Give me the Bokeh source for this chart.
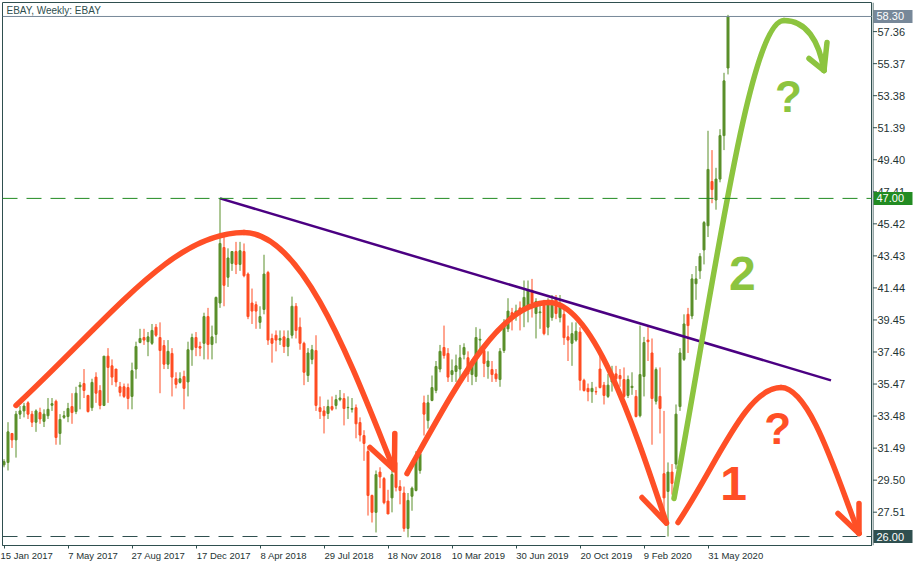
from bokeh.plotting import figure
from bokeh.layouts import row
from bokeh.models import FixedTicker, Span, Label, ColumnDataSource, Range1d
from bokeh.core.properties import value
from bokeh.embed import file_html
from bokeh.resources import INLINE

# ---------------- data (weekly EBAY candles) ----------------
OPEN = [30.45, 30.6, 32.4, 32.0, 33.6, 33.8, 34.3, 33.6, 33.1, 33.7,
        33.15, 33.5, 34.15, 34.4, 32.4, 33.4, 33.45, 34.07, 33.76, 35.3,
        35.5, 34.76, 34.0, 35.9, 35.07, 34.14, 37.2, 36.6, 36.4, 35.3,
        35.3, 35.25, 34.7, 36.4, 38.05, 38.36, 38.1, 38.0, 39.0, 38.36,
        37.86, 36.7, 37.37, 35.8, 35.57, 35.94, 35.6, 37.6, 38.36, 37.8,
        38.0, 39.66, 37.93, 38.55, 40.5, 43.95, 42.1, 42.96, 43.7, 42.9,
        43.7, 42.3, 40.5, 40.4, 39.3, 40.1, 42.4, 38.3, 38.5, 38.2,
        38.4, 37.8, 38.5, 40.3, 39.0, 38.0, 36.0, 37.0, 37.55, 34.0,
        33.8, 33.64, 34.07, 34.14, 34.5, 34.57, 34.0, 33.9, 34.0, 33.08,
        32.27, 31.28, 28.55, 27.5, 30.0, 29.6, 28.2, 28.4, 30.6, 29.1,
        28.7, 26.5, 28.5, 28.86, 30.1, 34.3, 33.2, 34.45, 35.07, 36.4,
        37.74, 37.37, 36.06, 36.25, 36.4, 37.3, 37.1, 36.06, 35.94, 38.2,
        37.55, 36.56, 36.37, 36.1, 35.75, 37.55, 38.9, 39.9, 39.85, 40.2,
        40.16, 40.2, 41.3, 39.85, 39.9, 40.5, 39.0, 39.6, 40.8, 39.6,
        39.8, 38.4, 38.0, 38.2, 38.7, 35.7, 35.2, 35.0, 35.0, 36.4,
        35.4, 34.7, 35.6, 36.1, 36.0, 35.75, 34.76, 35.25, 34.7, 33.5,
        35.94, 38.2, 37.4, 34.4, 34.7, 29.9, 28.8, 30.0, 30.5, 34.07,
        37.0, 39.8, 39.7, 41.7, 42.5, 43.8, 45.3, 48.05, 46.9, 48.2,
        50.9, 55.1]
HIGH = [30.8, 33.1, 32.4, 33.8, 34.1, 34.3, 34.4, 33.8, 33.9, 34.0,
        33.9, 34.6, 34.6, 34.5, 33.6, 33.8, 34.3, 34.9, 35.3, 35.6,
        36.4, 34.8, 35.8, 36.2, 35.4, 37.2, 37.7, 37.0, 36.4, 35.6,
        35.5, 35.5, 36.8, 38.1, 38.9, 38.9, 38.7, 39.2, 39.2, 39.3,
        38.2, 38.2, 37.7, 36.2, 36.2, 36.3, 38.1, 38.6, 38.7, 38.1,
        39.9, 40.2, 39.1, 40.9, 47.0, 44.6, 43.9, 43.7, 44.3, 44.3,
        44.2, 42.4, 41.4, 40.6, 40.3, 43.5, 42.5, 38.6, 38.8, 38.8,
        38.8, 38.8, 40.9, 40.5, 39.6, 38.1, 37.7, 37.9, 38.5, 34.7,
        34.1, 34.5, 34.7, 34.8, 35.1, 34.9, 34.7, 34.6, 34.2, 33.4,
        32.6, 31.6, 28.6, 30.1, 30.3, 29.7, 28.9, 30.1, 30.6, 29.5,
        29.1, 28.7, 29.1, 31.3, 31.3, 34.75, 34.8, 36.0, 36.9, 37.9,
        39.1, 37.7, 37.0, 37.3, 37.9, 38.0, 37.5, 37.0, 39.0, 38.9,
        37.9, 37.5, 36.9, 36.4, 37.7, 39.5, 40.8, 40.2, 40.4, 40.6,
        41.9, 41.9, 42.0, 40.8, 40.5, 40.7, 40.8, 41.0, 41.0, 41.0,
        40.2, 39.1, 39.3, 39.3, 39.0, 35.8, 35.5, 35.6, 35.3, 37.2,
        35.6, 36.1, 36.6, 36.6, 36.4, 36.5, 36.0, 36.2, 35.1, 39.1,
        38.4, 39.0, 38.3, 36.5, 36.5, 33.8, 30.6, 30.5, 34.2, 37.7,
        39.8, 40.2, 42.3, 42.8, 43.6, 45.6, 51.2, 50.0, 48.9, 51.3,
        54.8, 58.4]
LOW = [30.3, 30.1, 31.5, 30.9, 33.3, 33.4, 33.3, 32.8, 32.5, 33.0,
       32.8, 33.3, 33.8, 31.7, 31.7, 33.3, 33.1, 33.0, 33.6, 33.9,
       34.6, 33.7, 33.8, 34.3, 33.9, 34.1, 34.3, 35.4, 35.3, 34.7,
       34.6, 33.9, 33.9, 35.8, 38.0, 37.9, 37.2, 37.9, 38.4, 34.9,
       36.4, 36.4, 34.7, 35.2, 35.5, 33.9, 34.7, 36.6, 37.2, 37.2,
       37.0, 37.0, 37.0, 38.0, 40.2, 40.3, 41.5, 42.5, 42.3, 42.5,
       42.1, 39.5, 39.2, 38.9, 38.9, 39.8, 37.9, 36.8, 37.5, 37.9,
       37.4, 37.2, 38.3, 38.3, 37.6, 35.4, 35.6, 36.7, 33.8, 33.3,
       32.4, 33.3, 33.8, 33.9, 34.4, 32.9, 33.3, 33.7, 32.1, 31.9,
       30.7, 27.3, 26.87, 26.25, 29.0, 28.0, 27.4, 27.5, 28.8, 28.0,
       26.3, 25.95, 27.6, 28.8, 29.9, 32.27, 32.7, 34.4, 34.9, 36.2,
       37.05, 35.6, 35.6, 35.6, 35.6, 37.0, 35.6, 35.4, 35.6, 37.3,
       35.9, 35.8, 35.6, 35.6, 35.3, 37.4, 38.7, 38.8, 39.4, 38.8,
       39.0, 39.3, 39.6, 38.3, 38.9, 38.5, 38.5, 39.4, 39.5, 39.3,
       37.9, 36.9, 36.6, 38.1, 35.07, 35.0, 34.4, 34.3, 34.8, 35.2,
       34.2, 34.6, 35.0, 35.3, 35.3, 34.6, 34.6, 34.8, 33.4, 33.4,
       34.7, 36.9, 31.7, 34.2, 32.4, 27.6, 26.0, 28.6, 30.2, 33.8,
       36.9, 37.4, 39.5, 40.7, 42.0, 42.9, 44.6, 46.7, 46.3, 48.0,
       50.0, 54.7]
CLOSE = [30.65, 32.5, 32.0, 33.6, 33.8, 34.1, 33.6, 33.1, 33.8, 33.3,
         33.6, 33.9, 34.25, 32.15, 33.27, 33.5, 33.95, 33.7, 34.9, 35.4,
         35.07, 33.76, 35.57, 34.9, 34.14, 37.2, 36.5, 35.9, 35.6, 34.95,
         34.7, 34.57, 36.3, 37.8, 38.3, 38.2, 38.4, 38.8, 38.5, 37.55,
         36.7, 37.5, 35.9, 35.45, 35.8, 35.2, 37.6, 38.36, 37.74, 37.7,
         39.66, 37.93, 38.4, 40.85, 44.2, 41.6, 43.3, 43.7, 42.9, 43.75,
         42.2, 39.66, 40.0, 40.0, 39.66, 42.3, 38.2, 38.0, 38.2, 38.3,
         37.8, 38.3, 40.3, 38.8, 38.0, 36.2, 37.4, 37.6, 34.14, 33.76,
         33.5, 34.07, 33.9, 34.5, 34.6, 33.95, 34.02, 33.95, 33.0, 32.3,
         31.78, 28.55, 27.5, 29.85, 29.7, 28.1, 27.4, 29.85, 29.05, 28.86,
         26.5, 28.24, 29.0, 30.9, 31.15, 33.6, 34.3, 35.25, 36.56, 37.5,
         37.24, 35.9, 36.3, 36.6, 37.1, 37.74, 36.1, 36.75, 38.36, 38.25,
         36.75, 36.9, 36.06, 35.8, 37.5, 39.2, 40.0, 39.5, 40.0, 39.9,
         40.85, 41.3, 40.5, 40.6, 39.95, 38.6, 40.5, 40.6, 39.85, 40.35,
         38.35, 38.2, 38.6, 38.75, 35.7, 35.07, 35.0, 35.2, 34.98, 35.25,
         34.76, 35.4, 35.8, 35.8, 35.8, 34.7, 35.75, 35.33, 33.45, 36.06,
         38.05, 38.1, 34.57, 36.37, 33.95, 28.4, 30.0, 29.3, 33.6, 37.4,
         39.2, 39.1, 42.0, 42.0, 43.4, 45.5, 48.8, 47.55, 48.2, 50.9,
         54.3, 58.3]

X_TICKS = [0, 16, 32, 48, 64, 80, 96, 112, 128, 144, 160, 176]
X_LABELS = ["15 Jan 2017", "7 May 2017", "27 Aug 2017", "17 Dec 2017",
            "8 Apr 2018", "29 Jul 2018", "18 Nov 2018", "10 Mar 2019",
            "30 Jun 2019", "20 Oct 2019", "9 Feb 2020", "31 May 2020"]
Y_TICKS = [27.51, 29.50, 31.49, 33.48, 35.47, 37.46, 39.45, 41.44,
           43.43, 45.42, 47.41, 49.40, 51.39, 53.38, 55.37, 57.36]

BID = 58.30
RESIST = 47.00
SUPPORT = 26.00

# hand-drawn annotation geometry (bar index, price)
TREND_X = [54.0, 206.75]
TREND_Y = [47.0, 35.7]

RED_CURVES = dict(
    x0=[3.0, 60.0, 100.75, 136.25, 168.5, 194.25],
    y0=[34.14, 44.88, 29.91, 40.53, 26.87, 35.25],
    cx0=[28.0, 75.0, 113.25, 147.5, 178.5, 201.75],
    cy0=[39.98, 44.88, 35.44, 40.53, 30.60, 35.25],
    cx1=[42.5, 87.25, 123.75, 158.0, 185.5, 208.75],
    cy1=[44.88, 36.43, 40.53, 32.46, 35.25, 29.29],
    x1=[60.0, 97.5, 136.25, 165.6, 194.25, 213.75],
    y1=[44.88, 30.16, 40.53, 26.84, 35.25, 26.19],
)
RED_BARBS = dict(
    x0=[91.5, 97.7, 159.5, 208.5, 213.75],
    y0=[31.53, 32.4, 28.42, 27.43, 28.05],
    x1=[97.5, 97.6, 165.6, 213.75, 213.75],
    y1=[30.16, 30.16, 26.84, 26.19, 26.19],
)
GREEN_CURVES = dict(
    x0=[167.5, 195.0], y0=[28.36, 58.05],
    cx0=[177.25, 200.5], cy0=[41.28, 58.05],
    cx1=[186.25, 203.75], cy1=[58.05, 56.81],
    x1=[195.0, 205.0], y1=[58.05, 54.94],
)
GREEN_BARBS = dict(
    x0=[201.25, 205.75], y0=[55.69, 56.68],
    x1=[205.0, 205.0], y1=[54.94, 54.94],
)
BIG_TEXT = [("?", 196.1, 53.33, "green"), ("2", 184.6, 42.34, "green"),
            ("1", 182.4, 29.30, "red"), ("?", 193.4, 32.71, "red")]

BULL = "#5B8F2B"
BEAR = "#FF4D22"
ARROW_RED = "#FF4F26"
ARROW_GREEN = "#8CC43F"
SLATE = "#2F4F4F"
LEVEL_GREEN = "#228B22"
BID_GRAY = "#778899"
PURPLE = "#4B0082"
FONT = "Liberation Sans"

# Arial/Liberation advance widths (em) used to left-align the date labels at their ticks
_W = {" ": .278, "J": .5, "a": .556, "n": .556, "M": .833, "y": .5, "A": .667, "u": .556,
      "g": .556, "D": .722, "e": .556, "c": .556, "p": .556, "r": .333, "l": .222,
      "N": .722, "o": .556, "v": .5, "O": .778, "t": .278, "F": .611, "b": .556}


def left_pad(s):
    w = sum(_W.get(ch, .556) for ch in s)
    return "\u00a0" * int(round(w / .278)) + s


# first label is pushed inside the canvas by bokeh itself, so it stays unpadded
X_OVERRIDES = {t: (s if k == 0 else left_pad(s))
               for k, (t, s) in enumerate(zip(X_TICKS, X_LABELS))}

y_rng = Range1d(25.441, 59.168)

# ---------------- main chart ----------------
p = figure(width=872, height=565, x_range=(-0.375, 217.125), y_range=y_rng,
           output_backend="svg", toolbar_location=None, y_axis_location=None,
           min_border_left=2, min_border_top=2, min_border_right=0, min_border_bottom=20)
p.xgrid.visible = False
p.ygrid.visible = False
p.background_fill_color = "white"
p.border_fill_color = "white"
p.outline_line_color = SLATE
p.outline_line_width = 1

ax = p.xaxis[0]
ax.ticker = FixedTicker(ticks=X_TICKS)
ax.major_label_overrides = X_OVERRIDES
ax.axis_line_color = SLATE
ax.major_tick_line_color = SLATE
ax.major_tick_in = 0
ax.major_tick_out = 3
ax.minor_tick_line_color = None
ax.major_label_standoff = 1
ax.major_label_text_font = FONT
ax.major_label_text_font_size = "9.5px"
ax.major_label_text_color = "#1E3333"

# level lines
p.add_layout(Span(location=RESIST, dimension="width", line_color=LEVEL_GREEN,
                  line_dash="15 9", line_width=1))
p.add_layout(Span(location=SUPPORT, dimension="width", line_color=SLATE,
                  line_dash="15 9", line_width=1))
p.add_layout(Span(location=BID, dimension="width", line_color=BID_GRAY, line_width=1))

# candles
idx = list(range(len(OPEN)))
src = ColumnDataSource(dict(
    x=idx, h=HIGH, l=LOW,
    top=[max(o, c) for o, c in zip(OPEN, CLOSE)],
    bot=[min(o, c) for o, c in zip(OPEN, CLOSE)],
    color=[BULL if c >= o else BEAR for o, c in zip(OPEN, CLOSE)],
))
p.segment(x0="x", y0="l", x1="x", y1="h", line_color="color", line_width=1, source=src)
p.vbar(x="x", width=0.5, top="top", bottom="bot", fill_color="color",
       line_color="color", line_width=1, source=src)

# trend line
p.line(TREND_X, TREND_Y, line_color=PURPLE, line_width=2.5)

# hand-drawn arrows
p.bezier(line_color=ARROW_RED, line_width=5.5, line_cap="round",
         source=ColumnDataSource(RED_CURVES), x0="x0", y0="y0", x1="x1", y1="y1",
         cx0="cx0", cy0="cy0", cx1="cx1", cy1="cy1")
p.segment(x0="x0", y0="y0", x1="x1", y1="y1", line_color=ARROW_RED, line_width=5.5,
          line_cap="round", source=ColumnDataSource(RED_BARBS))
p.bezier(line_color=ARROW_GREEN, line_width=5.5, line_cap="round",
         source=ColumnDataSource(GREEN_CURVES), x0="x0", y0="y0", x1="x1", y1="y1",
         cx0="cx0", cy0="cy0", cx1="cx1", cy1="cy1")
p.segment(x0="x0", y0="y0", x1="x1", y1="y1", line_color=ARROW_GREEN, line_width=5.5,
          line_cap="round", source=ColumnDataSource(GREEN_BARBS))

for txt, x, y, which in BIG_TEXT:
    p.add_layout(Label(x=x, y=y, text=txt,
                       text_color=ARROW_GREEN if which == "green" else ARROW_RED,
                       text_font=FONT, text_font_style="bold",
                       text_font_size="44px" if txt == "?" else "48px",
                       text_align="center", text_baseline="alphabetic"))

# title
p.add_layout(Label(x=0.625, y=58.67, text="EBAY, Weekly:  EBAY", text_color=SLATE,
                   text_font=FONT, text_font_size="10px",
                   text_baseline="middle", text_align="left"))

# ---------------- price scale ----------------
q = figure(width=43, height=565, x_range=(0, 43), y_range=y_rng,
           output_backend="svg", toolbar_location=None,
           x_axis_location=None, y_axis_location=None,
           min_border_left=0, min_border_top=2, min_border_right=0, min_border_bottom=20)
q.xgrid.visible = False
q.ygrid.visible = False
q.outline_line_color = None
q.background_fill_color = "white"
q.border_fill_color = "white"

q.add_layout(Span(location=0.5, dimension="height", line_color=SLATE, line_width=1))
q.segment(x0=[0.5] * len(Y_TICKS), y0=Y_TICKS, x1=[4.5] * len(Y_TICKS), y1=Y_TICKS,
          line_color=SLATE, line_width=1)
q.text(x=[5.0] * len(Y_TICKS), y=Y_TICKS, text=[f"{v:.2f}" for v in Y_TICKS],
       text_font=value(FONT), text_font_size=value("11px"), text_color="#1E3333",
       text_baseline="middle", text_align="left")

LEVELS = [BID, RESIST, SUPPORT]
LEVEL_COLORS = [BID_GRAY, LEVEL_GREEN, SLATE]
q.rect(x=[20.5] * 3, y=LEVELS, width=39, height=13, height_units="screen",
       fill_color=LEVEL_COLORS, line_color=None)
q.text(x=[4.0] * 3, y=LEVELS, text=[f"{v:.2f}" for v in LEVELS],
       text_font=value(FONT), text_font_size=value("11px"), text_color="white",
       text_baseline="middle", text_align="left")

layout = row(p, q)
open("out.html", "w").write(file_html(layout, INLINE))
